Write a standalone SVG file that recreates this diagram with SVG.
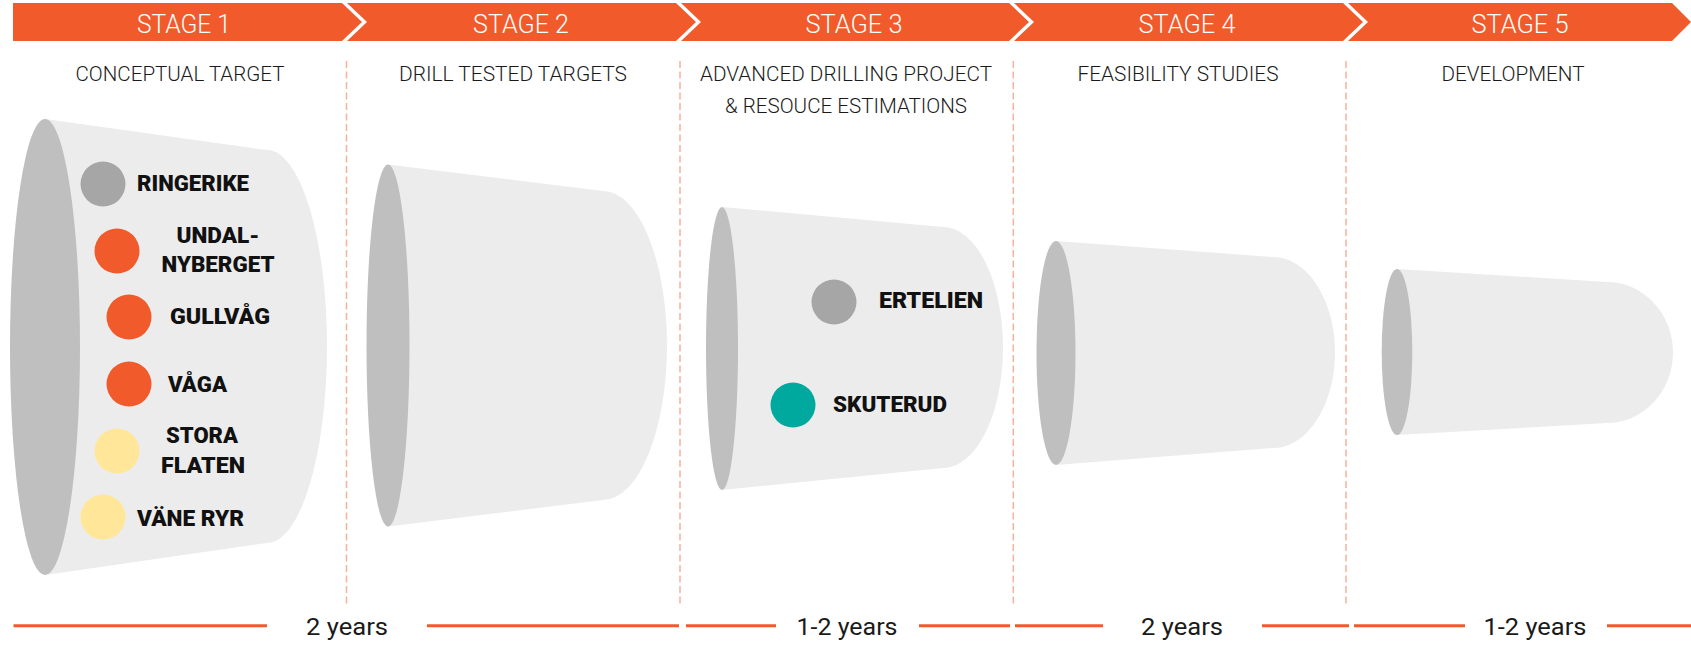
<svg xmlns="http://www.w3.org/2000/svg" width="1691" height="649" viewBox="0 0 1691 649">
<style>
.band{fill:#f15a2b}
.stg{font-family:Roboto,"Liberation Sans",sans-serif;font-weight:300;font-size:25px;fill:#ffffff;text-anchor:middle}
.sub{font-family:Roboto,"Liberation Sans",sans-serif;font-weight:300;font-size:20px;fill:#1a1a1a;text-anchor:middle}
.lbl{font-family:Roboto,"Liberation Sans",sans-serif;font-weight:900;font-size:22.5px;fill:#111111}
.mid{text-anchor:middle}
.body{fill:#ececec}
.rim{fill:#bfbfbf}
.div{stroke:#f6b39c;stroke-width:1.5;stroke-dasharray:7 3.5;fill:none}
.tl{stroke:#f15a2b;stroke-width:3;fill:none}
.yr{font-family:Roboto,"Liberation Sans",sans-serif;font-weight:400;font-size:24px;fill:#1a1a1a;text-anchor:middle}
.gray{fill:#a6a6a6}.orange{fill:#f15a2b}.yellow{fill:#ffe699}.teal{fill:#00a99d}
</style>
<rect width="1691" height="649" fill="#ffffff"/>

<g id="stage1">
<polygon class="band" points="13,3 342,3 362,22 342,41 13,41"/>
<text class="stg" x="184" y="33" textLength="94" lengthAdjust="spacingAndGlyphs">STAGE 1</text>
<text class="sub" x="180" y="81" textLength="209" lengthAdjust="spacingAndGlyphs">CONCEPTUAL TARGET</text>
</g>
<g id="stage2">
<polygon class="band" points="347,3 676,3 696,22 676,41 347,41 367,22"/>
<text class="stg" x="521" y="33" textLength="96" lengthAdjust="spacingAndGlyphs">STAGE 2</text>
<text class="sub" x="513" y="81" textLength="228" lengthAdjust="spacingAndGlyphs">DRILL TESTED TARGETS</text>
</g>
<g id="stage3">
<polygon class="band" points="681,3 1009,3 1029,22 1009,41 681,41 701,22"/>
<text class="stg" x="854" y="33" textLength="97" lengthAdjust="spacingAndGlyphs">STAGE 3</text>
<text class="sub" x="846" y="81" textLength="292" lengthAdjust="spacingAndGlyphs">ADVANCED DRILLING PROJECT</text>
<text class="sub" x="846" y="113" textLength="242" lengthAdjust="spacingAndGlyphs">&amp; RESOUCE ESTIMATIONS</text>
</g>
<g id="stage4">
<polygon class="band" points="1014,3 1343,3 1363,22 1343,41 1014,41 1034,22"/>
<text class="stg" x="1187" y="33" textLength="97" lengthAdjust="spacingAndGlyphs">STAGE 4</text>
<text class="sub" x="1178" y="81" textLength="201" lengthAdjust="spacingAndGlyphs">FEASIBILITY STUDIES</text>
</g>
<g id="stage5">
<polygon class="band" points="1348,3 1672,3 1691,22 1672,41 1348,41 1368,22"/>
<text class="stg" x="1520" y="33" textLength="97" lengthAdjust="spacingAndGlyphs">STAGE 5</text>
<text class="sub" x="1513" y="81" textLength="143" lengthAdjust="spacingAndGlyphs">DEVELOPMENT</text>
</g>

<g id="dividers">
<line class="div" x1="346.5" y1="61" x2="346.5" y2="605"/>
<line class="div" x1="680" y1="61" x2="680" y2="605"/>
<line class="div" x1="1013.3" y1="61" x2="1013.3" y2="605"/>
<line class="div" x1="1346" y1="61" x2="1346" y2="605"/>
</g>

<g id="cone1">
<path class="body" d="M45,119 L267,150 A60,196.5 0 0 1 267,543 L45,575 Z"/>
<ellipse class="rim" cx="45" cy="347" rx="35" ry="228"/>
</g>
<g id="cone2">
<path class="body" d="M388,164.5 L603,191 A64,154.5 0 0 1 603,500 L388,526.5 Z"/>
<ellipse class="rim" cx="388" cy="345.5" rx="21.5" ry="181"/>
</g>
<g id="cone3">
<path class="body" d="M722,207 L943,227 A60,120.5 0 0 1 943,468 L722,490 Z"/>
<ellipse class="rim" cx="722" cy="348.5" rx="16" ry="141.5"/>
</g>
<g id="cone4">
<path class="body" d="M1056,241 L1273,257 A62,95.5 0 0 1 1273,448 L1056,465 Z"/>
<ellipse class="rim" cx="1056" cy="353" rx="19.5" ry="112"/>
</g>
<g id="cone5">
<path class="body" d="M1397,269 L1607,282 A66,70.5 0 0 1 1607,423 L1397,435 Z"/>
<ellipse class="rim" cx="1397" cy="352" rx="15.3" ry="83"/>
</g>

<g id="ringerike">
<circle class="gray" cx="103" cy="184" r="22.5"/>
<text class="lbl" x="137" y="191" textLength="112" lengthAdjust="spacingAndGlyphs">RINGERIKE</text>
</g>
<g id="undal-nyberget">
<circle class="orange" cx="117" cy="251" r="22.5"/>
<text class="lbl mid" x="218" y="243" textLength="83" lengthAdjust="spacingAndGlyphs">UNDAL-</text>
<text class="lbl mid" x="218" y="272" textLength="113" lengthAdjust="spacingAndGlyphs">NYBERGET</text>
</g>
<g id="gullvag">
<circle class="orange" cx="129" cy="317" r="22.5"/>
<text class="lbl" x="170" y="324" textLength="100" lengthAdjust="spacingAndGlyphs">GULLVÅG</text>
</g>
<g id="vaga">
<circle class="orange" cx="129" cy="384" r="22.5"/>
<text class="lbl" x="168" y="392" textLength="59" lengthAdjust="spacingAndGlyphs">VÅGA</text>
</g>
<g id="stora-flaten">
<circle class="yellow" cx="117" cy="451" r="22.5"/>
<text class="lbl mid" x="202" y="443" textLength="72" lengthAdjust="spacingAndGlyphs">STORA</text>
<text class="lbl mid" x="203" y="473" textLength="84" lengthAdjust="spacingAndGlyphs">FLATEN</text>
</g>
<g id="vane-ryr">
<circle class="yellow" cx="103" cy="517" r="22.5"/>
<text class="lbl" x="137" y="526" textLength="107" lengthAdjust="spacingAndGlyphs">VÄNE RYR</text>
</g>
<g id="ertelien">
<circle class="gray" cx="834" cy="302" r="22.5"/>
<text class="lbl" x="879" y="308" textLength="104" lengthAdjust="spacingAndGlyphs">ERTELIEN</text>
</g>
<g id="skuterud">
<circle class="teal" cx="793" cy="405" r="22.5"/>
<text class="lbl" x="833" y="412" textLength="114" lengthAdjust="spacingAndGlyphs">SKUTERUD</text>
</g>

<g id="timeline">
<line class="tl" x1="13.5" y1="625.7" x2="267" y2="625.7"/>
<line class="tl" x1="427" y1="625.7" x2="679" y2="625.7"/>
<line class="tl" x1="686" y1="625.7" x2="776" y2="625.7"/>
<line class="tl" x1="919" y1="625.7" x2="1010" y2="625.7"/>
<line class="tl" x1="1015" y1="625.7" x2="1103" y2="625.7"/>
<line class="tl" x1="1262" y1="625.7" x2="1349" y2="625.7"/>
<line class="tl" x1="1354" y1="625.7" x2="1465" y2="625.7"/>
<line class="tl" x1="1607" y1="625.7" x2="1691" y2="625.7"/>
<text class="yr" x="347" y="635" textLength="82" lengthAdjust="spacingAndGlyphs">2 years</text>
<text class="yr" x="847" y="635" textLength="101" lengthAdjust="spacingAndGlyphs">1-2 years</text>
<text class="yr" x="1182" y="635" textLength="82" lengthAdjust="spacingAndGlyphs">2 years</text>
<text class="yr" x="1535" y="635" textLength="103" lengthAdjust="spacingAndGlyphs">1-2 years</text>
</g>
</svg>
